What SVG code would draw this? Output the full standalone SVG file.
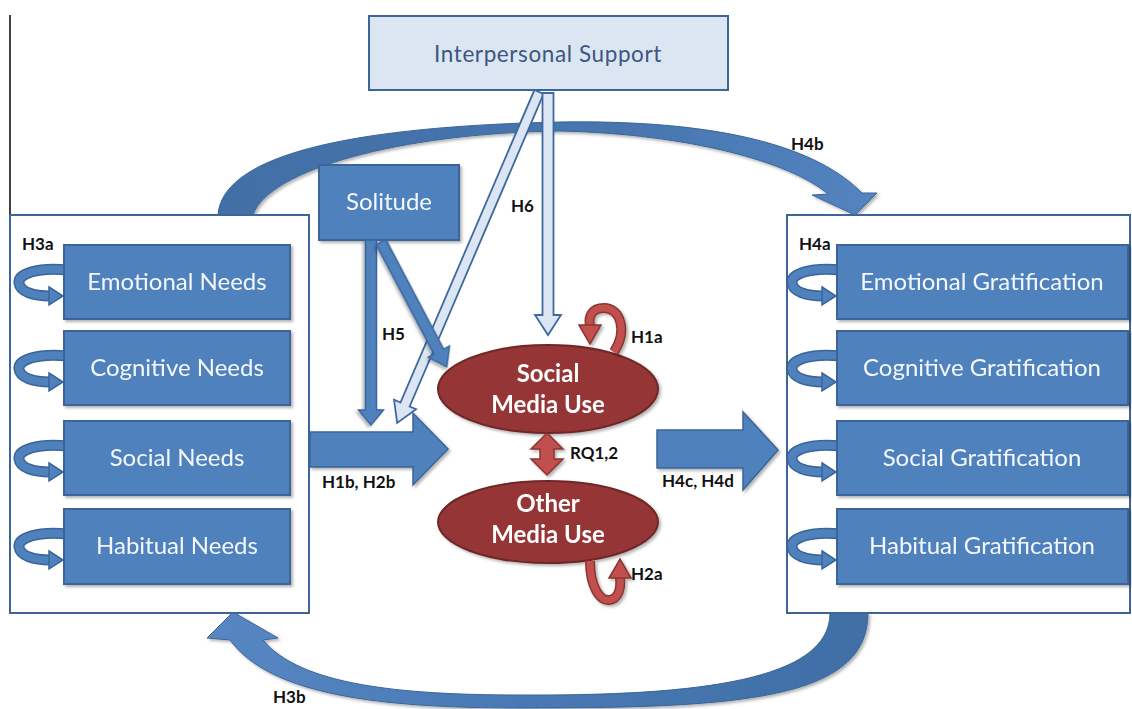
<svg xmlns="http://www.w3.org/2000/svg" xmlns:xlink="http://www.w3.org/1999/xlink" width="1132" height="709" viewBox="0 0 1132 709">
<style>
  .frame{fill:#ffffff;stroke:#3d6596;stroke-width:2}
  .box{fill:#4f81bd;stroke:#3a659a;stroke-width:2}
  .btxt{font-family:Lato,"Liberation Sans",sans-serif;font-size:24px;fill:#f4f7fc;text-anchor:middle}
  .ell{fill:#963634;stroke:#6e2826;stroke-width:2}
  .etxt{font-family:Lato,"Liberation Sans",sans-serif;font-size:24px;font-weight:bold;fill:#ffffff;text-anchor:middle}
  .lbl{font-family:Lato,"Liberation Sans",sans-serif;font-size:17px;font-weight:bold;fill:#111111}
  .barrow{fill:#4f81bd;stroke:#3a659a;stroke-width:1.5}
  .larrow{fill:#dce6f2;stroke:#3d68a0;stroke-width:1.8}
  .loopout{fill:none;stroke:#3a659a;stroke-width:11}
  .loopin{fill:none;stroke:#4f81bd;stroke-width:8}
  .rout{fill:none;stroke:#8b3532;stroke-width:10}
  .rin{fill:none;stroke:#c0504d;stroke-width:7}
  .rhead{fill:#c0504d;stroke:#8b3532;stroke-width:1.5}
</style>
<defs>
  <filter id="sh" x="-20%" y="-20%" width="140%" height="140%">
    <feDropShadow dx="2" dy="2" stdDeviation="1.8" flood-color="#000" flood-opacity="0.3"/>
  </filter>
  <linearGradient id="gTop" x1="0" y1="0" x2="1" y2="0">
    <stop offset="0" stop-color="#426fa6"/>
    <stop offset="0.6" stop-color="#4775ae"/>
    <stop offset="1" stop-color="#5384c0"/>
  </linearGradient>
  <linearGradient id="gBot" x1="1" y1="0" x2="0" y2="0">
    <stop offset="0" stop-color="#406ea5"/>
    <stop offset="0.6" stop-color="#4a7bb7"/>
    <stop offset="1" stop-color="#5787c3"/>
  </linearGradient>
  <g id="loop">
    <path class="loopout" d="M 4,-12 C -28,-15 -46,-8 -45,1 C -44,10 -30,14 -14,14"/>
    <path class="loopin" d="M 4,-12 C -28,-15 -46,-8 -45,1 C -44,10 -30,14 -14,14"/>
    <path d="M -15,5 L -1,14 L -15,23 Z" fill="#4f81bd" stroke="#3a659a" stroke-width="1.5"/>
  </g>
</defs>

<rect width="1132" height="709" fill="#ffffff"/>
<line x1="10" y1="15" x2="10" y2="368" stroke="#000" stroke-width="1.5"/>

<!-- curved arrows (behind) -->
<g id="connectors">
  <path id="h4b-arrow" filter="url(#sh)" fill="url(#gTop)" stroke="#3a659a" stroke-width="1"
        d="M 218,215 C 222,160 330,127 560,122 C 700,120 810,140 862,193 L 877,193 L 855,215 L 812,195 L 828,194 C 790,162 690,134 560,131 C 400,133 268,170 253,215 Z"/>
  <path id="h3b-arrow" filter="url(#sh)" fill="url(#gBot)" stroke="#3a659a" stroke-width="1"
        d="M 868,613 C 868,700 740,708 520,708 C 380,708 270,695 230,640 L 207,638 L 233,612 L 278,638 L 263,640 C 300,685 400,695 520,695 C 700,696 830,680 830,613 Z"/>
</g>

<!-- Container frames -->
<g id="needs-group">
  <rect class="frame" x="10" y="215" width="299" height="398"/>
</g>
<g id="gratification-group">
  <rect class="frame" x="787" y="215" width="343" height="398"/>
</g>

<!-- loops -->
<g id="loops">
  <use xlink:href="#loop" x="64" y="282"/>
  <use xlink:href="#loop" x="64" y="368"/>
  <use xlink:href="#loop" x="64" y="458"/>
  <use xlink:href="#loop" x="64" y="546"/>
  <use xlink:href="#loop" x="837" y="282"/>
  <use xlink:href="#loop" x="837" y="368"/>
  <use xlink:href="#loop" x="837" y="458"/>
  <use xlink:href="#loop" x="837" y="546"/>
</g>

<!-- need boxes -->
<g id="emotional-needs" filter="url(#sh)"><rect class="box" x="64" y="245" width="226" height="74"/><text class="btxt" x="177" y="290">Emotional Needs</text></g>
<g id="cognitive-needs" filter="url(#sh)"><rect class="box" x="64" y="331" width="226" height="74"/><text class="btxt" x="177" y="376">Cognitive Needs</text></g>
<g id="social-needs" filter="url(#sh)"><rect class="box" x="64" y="421" width="226" height="74"/><text class="btxt" x="177" y="466">Social Needs</text></g>
<g id="habitual-needs" filter="url(#sh)"><rect class="box" x="64" y="509" width="226" height="75"/><text class="btxt" x="177" y="554">Habitual Needs</text></g>

<!-- gratification boxes -->
<g id="emotional-grat" filter="url(#sh)"><rect class="box" x="837" y="245" width="291" height="74"/><text class="btxt" x="982" y="290">Emotional Gratification</text></g>
<g id="cognitive-grat" filter="url(#sh)"><rect class="box" x="837" y="331" width="291" height="74"/><text class="btxt" x="982" y="376">Cognitive Gratification</text></g>
<g id="social-grat" filter="url(#sh)"><rect class="box" x="837" y="421" width="291" height="74"/><text class="btxt" x="982" y="466">Social Gratification</text></g>
<g id="habitual-grat" filter="url(#sh)"><rect class="box" x="837" y="509" width="291" height="75"/><text class="btxt" x="982" y="554">Habitual Gratification</text></g>

<!-- Interpersonal Support -->
<g id="interpersonal-support">
  <rect x="369" y="16" width="359" height="74" fill="#dce6f2" stroke="#3d6596" stroke-width="2"/>
  <text x="548" y="62" font-family="Lato,'Liberation Sans',sans-serif" font-size="22.5" letter-spacing="0.6" fill="#3b5680" text-anchor="middle">Interpersonal Support</text>
</g>

<!-- Solitude -->
<g id="solitude" filter="url(#sh)">
  <rect class="box" x="319" y="165" width="140" height="75"/>
  <text class="btxt" x="389" y="210" font-size="22">Solitude</text>
</g>

<!-- straight arrows -->
<g id="connectors-straight">
  <polygon class="larrow" transform="translate(539,92) rotate(113.2)" points="0,-5 340,-5 340,-12 360,0 340,12 340,5 0,5"/>
  <polygon class="larrow" transform="translate(548,93) rotate(90)" points="0,-5.5 222,-5.5 222,-13 242,0 222,13 222,5.5 0,5.5"/>
  <polygon class="barrow" filter="url(#sh)" transform="translate(371,240) rotate(90)" points="0,-5.5 170,-5.5 170,-12.5 185,0 170,12.5 170,5.5 0,5.5"/>
  <polygon class="barrow" filter="url(#sh)" transform="translate(381,242) rotate(62.2)" points="0,-5.5 124,-5.5 124,-12 141,0 124,12 124,5.5 0,5.5"/>
  <polygon class="barrow" filter="url(#sh)" points="310,432 413,432 413,413 448,449 413,485 413,467 310,467"/>
  <polygon class="barrow" filter="url(#sh)" points="657,430 743,430 743,412 778,450 743,490 743,468 657,468"/>
</g>

<!-- Media use ellipses -->
<g id="social-media-use" filter="url(#sh)">
  <ellipse class="ell" cx="548" cy="389" rx="110" ry="44"/>
  <text class="etxt" x="548" y="382">Social</text>
  <text class="etxt" x="548" y="413">Media Use</text>
</g>
<g id="other-media-use" filter="url(#sh)">
  <ellipse class="ell" cx="548" cy="522" rx="110" ry="41"/>
  <text class="etxt" x="548" y="512">Other</text>
  <text class="etxt" x="548" y="543">Media Use</text>
</g>

<!-- red arrows -->
<g id="connectors-red" filter="url(#sh)">
  <polygon class="rhead" points="547,433 563,449 554,449 554,459 563,459 547,475 531,459 540,459 540,449 531,449"/>
  <path class="rout" d="M 614,352 C 628,330 620,308 604,308 C 592,308 588,316 590,326"/>
  <path class="rin" d="M 614,352 C 628,330 620,308 604,308 C 592,308 588,316 590,326"/>
  <polygon class="rhead" points="579,325 601,325 590,344"/>
  <path class="rout" d="M 590,561 C 590,587 600,601 609,600 C 619,599 621,588 620,577"/>
  <path class="rin" d="M 590,561 C 590,587 600,601 609,600 C 619,599 621,588 620,577"/>
  <polygon class="rhead" points="609,578 631,578 620,559"/>
</g>

<!-- labels -->
<g id="labels">
  <text class="lbl" x="22" y="250">H3a</text>
  <text class="lbl" x="799" y="250">H4a</text>
  <text class="lbl" x="791" y="150">H4b</text>
  <text class="lbl" x="511" y="212">H6</text>
  <text class="lbl" x="382" y="340">H5</text>
  <text class="lbl" x="631" y="343">H1a</text>
  <text class="lbl" x="570" y="459">RQ1,2</text>
  <text class="lbl" x="322" y="488">H1b, H2b</text>
  <text class="lbl" x="662" y="487">H4c, H4d</text>
  <text class="lbl" x="631" y="580">H2a</text>
  <text class="lbl" x="273" y="703">H3b</text>
</g>
</svg>
